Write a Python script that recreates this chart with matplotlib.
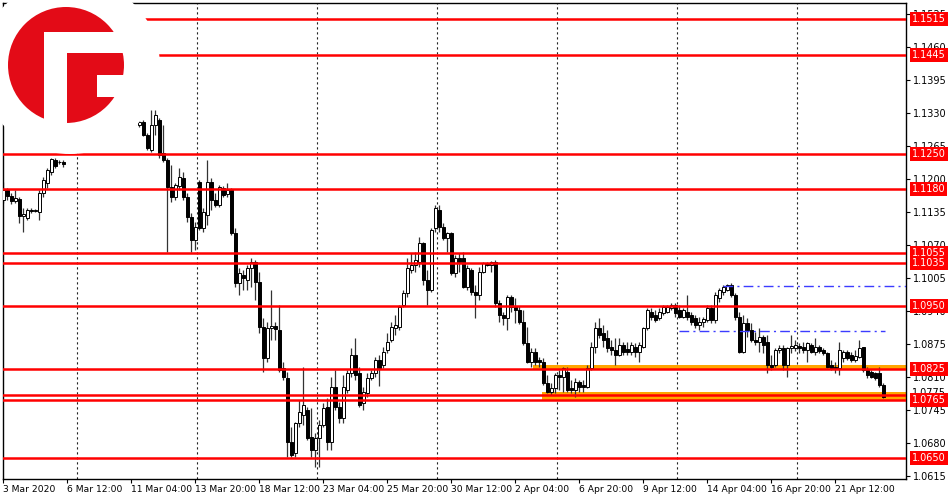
import numpy as np
import matplotlib
matplotlib.use("Agg")
import matplotlib.pyplot as plt
from matplotlib.patches import Circle, Ellipse, Rectangle
from matplotlib.transforms import blended_transform_factory

# EURUSD H4, 3 Mar 2020 20:00 .. 23 Apr 2020
open_ = [
    1.1159, 1.1179, 1.1167, 1.1157, 1.1161, 1.1127, 1.1124, 1.1139, 1.1137, 1.1135,
    1.1173, 1.1192, 1.1214, 1.1238, 1.1234, 1.1234, 1.1257, 1.1277, 1.1293, 1.1376,
    1.1415, 1.1435, 1.1405, 1.1376, 1.1386, 1.1366, 1.1336, 1.1317, 1.1326, 1.1356,
    1.1346, 1.1332, 1.1321, 1.1326, 1.1307, 1.1313, 1.1287, 1.1257, 1.1307, 1.1317,
    1.1252, 1.1238, 1.1185, 1.1165, 1.1187, 1.1202, 1.1165, 1.1126, 1.1080, 1.1194,
    1.1104, 1.1129, 1.1194, 1.1159, 1.1149, 1.1183, 1.1171, 1.1179, 1.1094, 1.0995,
    1.1011, 1.1001, 1.1025, 1.1037, 1.0997, 1.0909, 1.0848, 1.0907, 1.0911, 1.0903,
    1.0828, 1.0808, 1.0682, 1.0661, 1.0720, 1.0735, 1.0745, 1.0692, 1.0666, 1.0690,
    1.0716, 1.0751, 1.0682, 1.0791, 1.0751, 1.0730, 1.0785, 1.0818, 1.0854, 1.0818,
    1.0759, 1.0779, 1.0808, 1.0818, 1.0844, 1.0834, 1.0863, 1.0883, 1.0907, 1.0909,
    1.0952, 1.0976, 1.1021, 1.1031, 1.1037, 1.1074, 1.1001, 1.0982, 1.1104, 1.1139,
    1.1106, 1.1084, 1.1094, 1.1015, 1.1045, 1.1045, 1.0988, 1.1021, 1.0978, 1.0972,
    1.1017, 1.1035, 1.1031, 1.1037, 1.0956, 1.0932, 1.0927, 1.0968, 1.0948, 1.0942,
    1.0919, 1.0877, 1.0840, 1.0860, 1.0844, 1.0840, 1.0798, 1.0781, 1.0789, 1.0814,
    1.0810, 1.0820, 1.0789, 1.0785, 1.0800, 1.0795, 1.0791, 1.0828, 1.0869, 1.0907,
    1.0897, 1.0887, 1.0869, 1.0863, 1.0854, 1.0873, 1.0866, 1.0860, 1.0869, 1.0860,
    1.0869, 1.0907, 1.0938, 1.0932, 1.0927, 1.0936, 1.0938, 1.0946, 1.0952, 1.0942,
    1.0929, 1.0938, 1.0932, 1.0927, 1.0913, 1.0919, 1.0923, 1.0946, 1.0923, 1.0966,
    1.0978, 1.0982, 1.0992, 1.0972, 1.0929, 1.0860, 1.0917, 1.0903, 1.0883, 1.0879,
    1.0889, 1.0879, 1.0834, 1.0834, 1.0863, 1.0867, 1.0834, 1.0867, 1.0867, 1.0871,
    1.0869, 1.0863, 1.0873, 1.0860, 1.0869, 1.0863, 1.0858, 1.0834, 1.0830, 1.0828,
    1.0848, 1.0860, 1.0854, 1.0844, 1.0850, 1.0869, 1.0824, 1.0820, 1.0818, 1.0818,
    1.0795]
high = [
    1.1194, 1.1183, 1.1173, 1.1179, 1.1165, 1.1143, 1.1143, 1.1143, 1.1141, 1.1179,
    1.1204, 1.1222, 1.1242, 1.1242, 1.1238, 1.1238, 1.1287, 1.1301, 1.1307, 1.1474,
    1.1484, 1.1445, 1.1415, 1.1395, 1.1395, 1.1376, 1.1346, 1.1356, 1.1366, 1.1366,
    1.1356, 1.1340, 1.1336, 1.1332, 1.1317, 1.1317, 1.1291, 1.1336, 1.1336, 1.1321,
    1.1307, 1.1242, 1.1228, 1.1192, 1.1222, 1.1214, 1.1173, 1.1133, 1.1116, 1.1198,
    1.1143, 1.1238, 1.1202, 1.1173, 1.1189, 1.1187, 1.1192, 1.1183, 1.1104, 1.1025,
    1.1021, 1.1031, 1.1045, 1.1041, 1.1017, 1.0927, 1.0919, 1.0982, 1.0919, 1.0952,
    1.0840, 1.0820, 1.0712, 1.0722, 1.0765, 1.0830, 1.0751, 1.0749, 1.0700, 1.0726,
    1.0759, 1.0769, 1.0810, 1.0824, 1.0761, 1.0814, 1.0824, 1.0867, 1.0887, 1.0830,
    1.0791, 1.0818, 1.0824, 1.0850, 1.0854, 1.0869, 1.0897, 1.0919, 1.0932, 1.0952,
    1.0982, 1.1045, 1.1055, 1.1057, 1.1086, 1.1076, 1.1021, 1.1104, 1.1149, 1.1149,
    1.1114, 1.1096, 1.1096, 1.1051, 1.1055, 1.1057, 1.1031, 1.1025, 1.0992, 1.1027,
    1.1037, 1.1037, 1.1039, 1.1041, 1.0962, 1.0938, 1.0972, 1.0972, 1.0966, 1.0950,
    1.0942, 1.0909, 1.0867, 1.0867, 1.0850, 1.0848, 1.0814, 1.0798, 1.0818, 1.0824,
    1.0830, 1.0830, 1.0804, 1.0808, 1.0804, 1.0804, 1.0834, 1.0879, 1.0919, 1.0927,
    1.0913, 1.0903, 1.0883, 1.0887, 1.0887, 1.0879, 1.0879, 1.0879, 1.0877, 1.0879,
    1.0909, 1.0946, 1.0946, 1.0942, 1.0946, 1.0952, 1.0952, 1.0956, 1.0956, 1.0952,
    1.0946, 1.0972, 1.0938, 1.0932, 1.0929, 1.0929, 1.0952, 1.0952, 1.0978, 1.0986,
    1.0992, 1.0994, 1.0995, 1.0976, 1.0938, 1.0932, 1.0927, 1.0917, 1.0899, 1.0907,
    1.0893, 1.0893, 1.0854, 1.0867, 1.0873, 1.0873, 1.0869, 1.0893, 1.0883, 1.0877,
    1.0879, 1.0879, 1.0877, 1.0887, 1.0873, 1.0867, 1.0860, 1.0844, 1.0840, 1.0879,
    1.0863, 1.0863, 1.0860, 1.0863, 1.0883, 1.0869, 1.0830, 1.0824, 1.0820, 1.0830,
    1.0798]
low = [
    1.1153, 1.1159, 1.1151, 1.1153, 1.1114, 1.1096, 1.1120, 1.1133, 1.1135, 1.1120,
    1.1165, 1.1183, 1.1208, 1.1222, 1.1230, 1.1224, 1.1252, 1.1267, 1.1277, 1.1366,
    1.1395, 1.1386, 1.1356, 1.1356, 1.1346, 1.1317, 1.1297, 1.1307, 1.1317, 1.1326,
    1.1317, 1.1313, 1.1311, 1.1307, 1.1303, 1.1285, 1.1257, 1.1254, 1.1287, 1.1242,
    1.1234, 1.1057, 1.1155, 1.1159, 1.1179, 1.1159, 1.1116, 1.1057, 1.1060, 1.1100,
    1.1096, 1.1110, 1.1139, 1.1145, 1.1145, 1.1165, 1.1165, 1.1090, 1.0988, 1.0972,
    1.0982, 1.0982, 1.0988, 1.0962, 1.0897, 1.0820, 1.0840, 1.0883, 1.0883, 1.0820,
    1.0804, 1.0653, 1.0653, 1.0653, 1.0712, 1.0716, 1.0686, 1.0653, 1.0633, 1.0633,
    1.0712, 1.0666, 1.0666, 1.0745, 1.0720, 1.0720, 1.0779, 1.0810, 1.0804, 1.0751,
    1.0745, 1.0771, 1.0804, 1.0810, 1.0793, 1.0828, 1.0858, 1.0879, 1.0893, 1.0903,
    1.0948, 1.0968, 1.1015, 1.1017, 1.1027, 1.0992, 1.0952, 1.0978, 1.1096, 1.1096,
    1.1080, 1.1057, 1.1011, 1.1007, 1.1017, 1.0986, 1.0982, 1.0972, 1.0927, 1.0962,
    1.1015, 1.1029, 1.1017, 1.0948, 1.0919, 1.0913, 1.0903, 1.0938, 1.0917, 1.0915,
    1.0873, 1.0838, 1.0830, 1.0834, 1.0830, 1.0795, 1.0779, 1.0775, 1.0779, 1.0785,
    1.0781, 1.0781, 1.0779, 1.0771, 1.0781, 1.0781, 1.0789, 1.0824, 1.0858, 1.0887,
    1.0869, 1.0860, 1.0854, 1.0834, 1.0852, 1.0854, 1.0854, 1.0854, 1.0850, 1.0840,
    1.0867, 1.0903, 1.0923, 1.0919, 1.0923, 1.0932, 1.0936, 1.0942, 1.0929, 1.0927,
    1.0927, 1.0923, 1.0913, 1.0907, 1.0903, 1.0909, 1.0919, 1.0917, 1.0917, 1.0958,
    1.0972, 1.0980, 1.0968, 1.0923, 1.0858, 1.0858, 1.0889, 1.0879, 1.0873, 1.0860,
    1.0858, 1.0818, 1.0824, 1.0830, 1.0858, 1.0824, 1.0810, 1.0858, 1.0862, 1.0858,
    1.0858, 1.0840, 1.0858, 1.0854, 1.0858, 1.0854, 1.0828, 1.0824, 1.0818, 1.0814,
    1.0840, 1.0844, 1.0840, 1.0840, 1.0848, 1.0820, 1.0808, 1.0808, 1.0804, 1.0791,
    1.0769]
close = [
    1.1179, 1.1167, 1.1157, 1.1163, 1.1127, 1.1131, 1.1139, 1.1137, 1.1139, 1.1173,
    1.1198, 1.1218, 1.1240, 1.1226, 1.1234, 1.1230, 1.1277, 1.1293, 1.1281, 1.1415,
    1.1435, 1.1405, 1.1376, 1.1386, 1.1366, 1.1336, 1.1317, 1.1326, 1.1356, 1.1346,
    1.1332, 1.1321, 1.1326, 1.1313, 1.1313, 1.1287, 1.1261, 1.1307, 1.1326, 1.1248,
    1.1238, 1.1185, 1.1165, 1.1189, 1.1204, 1.1165, 1.1126, 1.1080, 1.1106, 1.1104,
    1.1135, 1.1194, 1.1159, 1.1149, 1.1185, 1.1169, 1.1179, 1.1094, 1.0995, 1.1015,
    1.1005, 1.1025, 1.1037, 1.0997, 1.0909, 1.0848, 1.0907, 1.0911, 1.0905, 1.0824,
    1.0810, 1.0682, 1.0657, 1.0720, 1.0741, 1.0755, 1.0690, 1.0666, 1.0690, 1.0716,
    1.0749, 1.0682, 1.0791, 1.0751, 1.0730, 1.0791, 1.0818, 1.0854, 1.0814, 1.0755,
    1.0781, 1.0808, 1.0818, 1.0844, 1.0828, 1.0860, 1.0879, 1.0909, 1.0913, 1.0948,
    1.0976, 1.1025, 1.1031, 1.1041, 1.1074, 1.1001, 1.0982, 1.1100, 1.1143, 1.1106,
    1.1084, 1.1094, 1.1015, 1.1045, 1.1037, 1.0988, 1.1025, 1.0978, 1.0972, 1.1017,
    1.1035, 1.1031, 1.1037, 1.0956, 1.0932, 1.0927, 1.0968, 1.0948, 1.0942, 1.0919,
    1.0877, 1.0840, 1.0860, 1.0840, 1.0840, 1.0798, 1.0781, 1.0789, 1.0814, 1.0810,
    1.0828, 1.0785, 1.0785, 1.0800, 1.0791, 1.0791, 1.0828, 1.0869, 1.0907, 1.0893,
    1.0883, 1.0867, 1.0863, 1.0854, 1.0873, 1.0860, 1.0860, 1.0873, 1.0860, 1.0873,
    1.0907, 1.0942, 1.0929, 1.0923, 1.0938, 1.0948, 1.0948, 1.0952, 1.0936, 1.0929,
    1.0942, 1.0929, 1.0919, 1.0913, 1.0919, 1.0925, 1.0946, 1.0923, 1.0972, 1.0982,
    1.0988, 1.0992, 1.0972, 1.0929, 1.0860, 1.0917, 1.0903, 1.0883, 1.0879, 1.0889,
    1.0873, 1.0834, 1.0830, 1.0863, 1.0867, 1.0834, 1.0867, 1.0871, 1.0873, 1.0867,
    1.0863, 1.0877, 1.0860, 1.0869, 1.0862, 1.0858, 1.0830, 1.0828, 1.0826, 1.0863,
    1.0860, 1.0848, 1.0844, 1.0852, 1.0867, 1.0824, 1.0814, 1.0810, 1.0808, 1.0795,
    1.0771]

# horizontal levels (red lines with price tags)
levels = [1.1515, 1.1445, 1.1250, 1.1180, 1.1055, 1.1035, 1.0950, 1.0825, 1.0775, 1.0765, 1.0650]
tagged = [1.1515, 1.1445, 1.1250, 1.1180, 1.1055, 1.1035, 1.0950, 1.0825, 1.0765, 1.0650]
# orange zones: (start bar, low, high)
zones = [(132.5, 1.0823, 1.0833), (134.7, 1.0765, 1.0781)]
# blue dash-dot lines: (price, start bar, end bar)
blue_lines = [(1.0990, 179.8, 226), (1.0901, 168.8, 220.5)]

yticks = [1.0615, 1.0680, 1.0745, 1.0810, 1.0875, 1.0940, 1.1005, 1.1070,
          1.1135, 1.1200, 1.1265, 1.1330, 1.1395, 1.1460, 1.1525]
xtick_pos = [0, 16, 32, 48, 64, 80, 96, 112, 128, 144, 160, 176, 192, 208]
xtick_lab = ["3 Mar 2020", "6 Mar 12:00", "11 Mar 04:00", "13 Mar 20:00", "18 Mar 12:00",
             "23 Mar 04:00", "25 Mar 20:00", "30 Mar 12:00", "2 Apr 04:00", "6 Apr 20:00",
             "9 Apr 12:00", "14 Apr 04:00", "16 Apr 20:00", "21 Apr 12:00"]
week_sep = [18.5, 48.5, 78.5, 108.5, 138.5, 168.5, 198.5]

o = np.array(open_); c = np.array(close)
h = np.maximum(np.array(high), np.maximum(o, c))
l = np.minimum(np.array(low), np.minimum(o, c))
x = np.arange(len(c))

fig = plt.figure(figsize=(9.5, 5), dpi=100)
ax = fig.add_axes([3/950, 21/500, 903/950, 476/500])
ax.set_xlim(-0.1, 225.65)
ax.set_ylim(1.0609, 1.1547)

for s in week_sep:
    ax.axvline(s, color="#222222", lw=0.8, ls=(0, (2, 2.5)), zorder=1)

for start, lo, hi in zones:
    ax.add_patch(Rectangle((start, lo), 240 - start, hi - lo, color="#ffa500", lw=0, zorder=1.5))

# candles
ax.vlines(x, l, h, color="#333333", lw=0.9, zorder=2)
up = c >= o
ax.bar(x, np.maximum(np.abs(c - o), 0.00003), bottom=np.minimum(o, c), width=0.62,
       color=np.where(up, "white", "black"), edgecolor="black", linewidth=0.7, zorder=3)

for lv in levels:
    ax.axhline(lv, color="#ff0000", lw=1.8, zorder=4)
for p, a, b in blue_lines:
    ax.hlines(p, a, b, color="#3c3cff", lw=1.0, ls=(0, (7, 3, 1.5, 3)), zorder=4)

ax.yaxis.tick_right()
ax.set_yticks(yticks)
ax.set_yticklabels([f"{v:.4f}" for v in yticks], fontsize=7)
ax.tick_params(axis="y", length=3, pad=2, width=0.8)
ax.set_xticks(xtick_pos)
ax.set_xticklabels(xtick_lab, fontsize=6.6, ha="left")
ax.tick_params(axis="x", length=3, pad=1.5, width=0.8)
for sp in ax.spines.values():
    sp.set_color("black"); sp.set_linewidth(1)

tr = blended_transform_factory(ax.transAxes, ax.transData)
ax.text(1.0065, 1.0778, "1.0775", transform=tr, fontsize=7, va="center", ha="left",
        color="black", clip_on=False, zorder=5)
for lv in tagged:
    ax.text(1.0065, lv, f"{lv:.4f}", transform=tr, fontsize=7, va="center", ha="left",
            color="white", clip_on=False, zorder=6,
            bbox=dict(boxstyle="square,pad=0.2", fc="#ff0000", ec="none"))

# logo overlay in pixel coordinates
lg = fig.add_axes([0, 0, 1, 1], zorder=10)
lg.set_xlim(0, 950); lg.set_ylim(500, 0); lg.axis("off")
lg.add_patch(Ellipse((70, 66), 180, 176, color="white", lw=0))
lg.add_patch(Circle((66, 65), 58, color="#e30b17", lw=0))
lg.add_patch(Rectangle((44, 32), 23, 95, color="white", lw=0))
lg.add_patch(Rectangle((44, 32), 86, 21, color="white", lw=0))
lg.add_patch(Rectangle((97, 75), 33, 22, color="white", lw=0))

fig.savefig("out.png", dpi=100, facecolor="white")
